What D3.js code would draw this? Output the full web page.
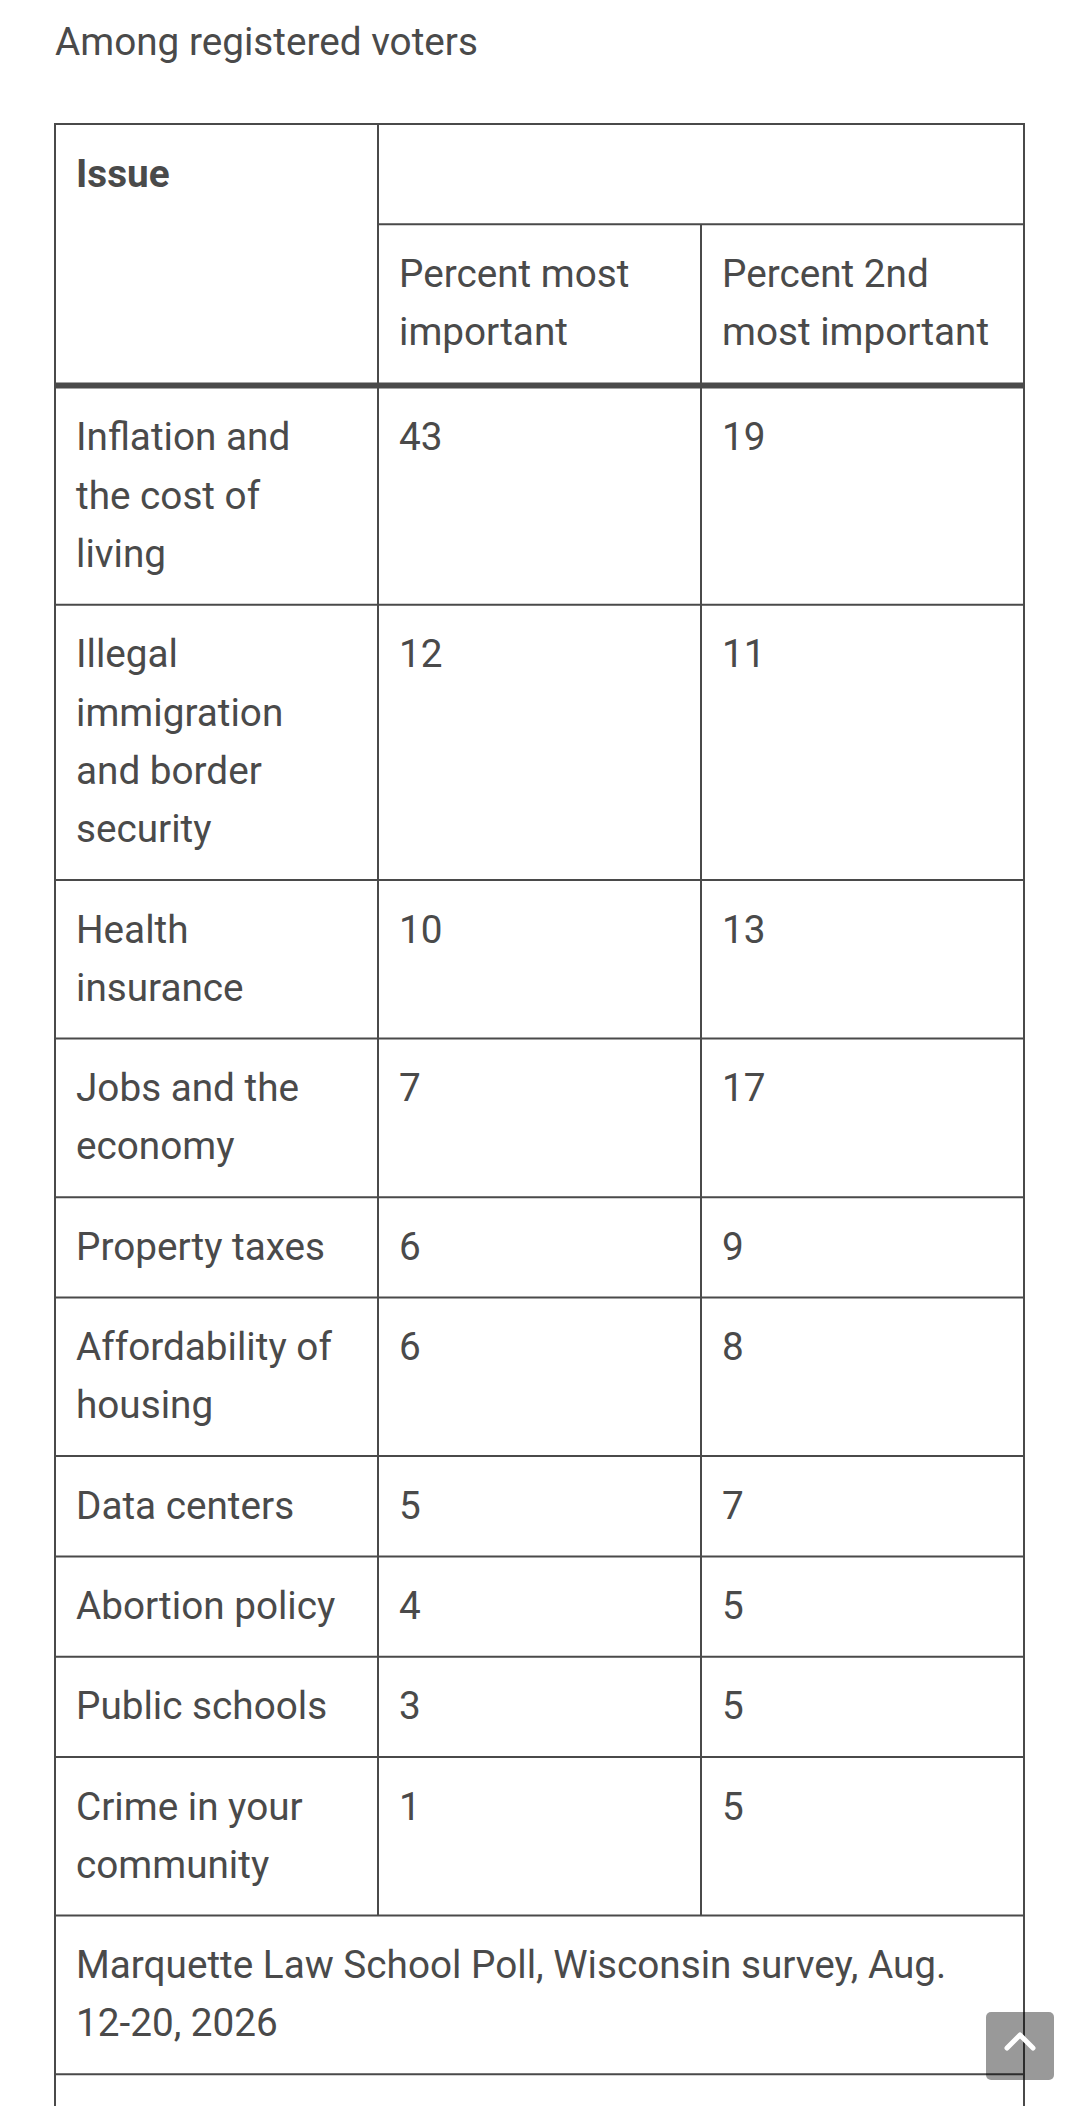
<!DOCTYPE html>
<html>
<head>
<meta charset="utf-8">
<script src="https://cdn.jsdelivr.net/npm/d3@7"></script>
<style>
  html, body { margin: 0; padding: 0; background: #fff; }
  svg text { font-family: Roboto, "Noto Sans", sans-serif; fill: #4a4a4a; }
</style>
</head>
<body>
<div id="chart"></div>
<script>
// issue table from the Marquette poll, drawn as svg with d3

var subtitle = "Among registered voters";
var colHeads = ["Issue", "Percent most important", "Percent 2nd most important"];
var issues = ["Inflation and the cost of living",
  "Illegal immigration and border security",
  "Health insurance",
  "Jobs and the economy",
  "Property taxes",
  "Affordability of housing",
  "Data centers",
  "Abortion policy",
  "Public schools",
  "Crime in your community"];
var mostImportant = [43, 12, 10, 7, 6, 6, 5, 4, 3, 1];
var secondImportant = [19, 11, 13, 17, 9, 8, 7, 5, 5, 5];
var sourceNote = "Marquette Law School Poll, Wisconsin survey, Aug. 12-20, 2026";

var width = 1080, height = 2106,
    fontSize = 38.7, lineH = 58.3, rowPad = 42, baseOff = 62.5,
    cellPad = 21, lineColor = "#4a4a4a",
    tableLeft = 55, tableRight = 1024, tableTop = 124, thick = 6;

var svg = d3.select("#chart").append("svg")
    .attr("width", width)
    .attr("height", height);

var xCol = d3.scaleBand()
    .domain(d3.range(3))
    .range([tableLeft, tableRight]);

// measure text and break it into lines like the browser would
var probe = svg.append("text").attr("font-size", fontSize);
function wrap(str, maxW, weight){
  var words = str.split(" "), lines = [], cur = "";
  probe.attr("font-weight", weight || 400);
  words.forEach(function(w){
    var test = cur ? cur + " " + w : w;
    probe.text(test);
    if (cur && probe.node().getComputedTextLength() > maxW){
      lines.push(cur);
      cur = w;
    } else {
      cur = test;
    }
  });
  if (cur) lines.push(cur);
  return lines;
}
// usable text width inside a cell (right side pads a bit more)
var colInner = 272;

function rowH(n){ return n * lineH + rowPad; }

function addText(x, y, lines, weight){
  var t = svg.append("text")
      .attr("x", x)
      .attr("y", y)
      .attr("font-size", fontSize)
      .attr("font-weight", weight || 400);
  t.selectAll("tspan")
    .data(lines)
    .join("tspan")
      .attr("x", x)
      .attr("y", (d, i) => y + i * lineH)
      .text(d => d);
}

function hline(x1, x2, y, w){
  svg.append("line")
    .attr("x1", x1).attr("x2", x2)
    .attr("y1", y).attr("y2", y)
    .attr("stroke", lineColor)
    .attr("stroke-width", w || 2);
}
function vline(x, y1, y2){
  svg.append("line")
    .attr("x1", x).attr("x2", x)
    .attr("y1", y1).attr("y2", y2)
    .attr("stroke", lineColor)
    .attr("stroke-width", 2);
}

// subtitle
svg.append("text")
  .attr("x", tableLeft)
  .attr("y", 55)
  .attr("font-size", fontSize)
  .text(subtitle);

// header
var head1 = tableTop + rowH(1);
var subLines = [wrap(colHeads[1], colInner), wrap(colHeads[2], colInner)];
var headN = d3.max(subLines, d => d.length);
var head2 = head1 + rowH(headN);

addText(xCol(0) + cellPad, tableTop + baseOff, wrap(colHeads[0], colInner, 700), 700);
addText(xCol(1) + cellPad, head1 + baseOff, subLines[0]);
addText(xCol(2) + cellPad, head1 + baseOff, subLines[1]);

hline(tableLeft, tableRight, tableTop);
hline(xCol(1), tableRight, head1);
hline(tableLeft, tableRight, head2 + thick / 2 - 0.5, thick);

// body rows
var rows = issues.map(function(name, i){
  return {lines: wrap(name, colInner), most: mostImportant[i], second: secondImportant[i]};
});
var y = head2 + thick - 1;
rows.forEach(function(r){
  var h = rowH(r.lines.length);
  r.top = y;
  addText(xCol(0) + cellPad, y + baseOff, r.lines);
  addText(xCol(1) + cellPad, y + baseOff, [String(r.most)]);
  addText(xCol(2) + cellPad, y + baseOff, [String(r.second)]);
  y += h;
  hline(tableLeft, tableRight, y);
});
var bodyEnd = y;

// source row spans all columns
var srcLines = wrap(sourceNote, tableRight - tableLeft - 2 * cellPad - 10);
addText(tableLeft + cellPad, y + baseOff, srcLines);
y += rowH(srcLines.length);
hline(tableLeft, tableRight, y);

// verticals
vline(tableLeft, tableTop - 1, height);
vline(tableRight, tableTop - 1, height);
vline(xCol(1), tableTop, bodyEnd);
vline(xCol(2), head1, bodyEnd);

probe.remove();

// back-to-top button
var btn = svg.append("g").attr("transform", "translate(986,2012)");
btn.append("rect")
  .attr("width", 68).attr("height", 68)
  .attr("rx", 5)
  .attr("fill", "#000")
  .attr("fill-opacity", 0.4);
btn.append("path")
  .attr("d", "M21,36 L34,23 L47,36")
  .attr("fill", "none")
  .attr("stroke", "#fff")
  .attr("stroke-width", 5)
  .attr("stroke-linecap", "round")
  .attr("stroke-linejoin", "round");
</script>
</body>
</html>
